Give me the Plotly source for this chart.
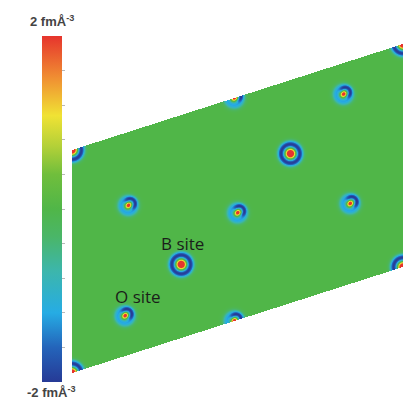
import numpy as np
import plotly.graph_objects as go

# ---- cell geometry of the map (pixel frame of the figure) ----
cell_origin = [72.0, 373.0]     # bottom-left corner
cell_a = [331.0, -106.0]        # bottom edge vector
cell_b = [0.0, -223.0]          # left edge vector

# ---- site data (fractional coordinates in the cell) ----
b_site_u = [0.00, 0.33, 0.66]
b_site_v = [0.00, 0.33, 0.67]
o_site_u = [0.16, 0.50, 0.82, 0.17, 0.49, 0.84]
o_site_v = [0.18, 0.48, 0.86, 0.67, 0.00, 0.36]

# peak / trough amplitudes (fm Å^-3)
b_peak, b_trough = 3.6, 2.0
o_peak, o_trough, o_crescent = 3.2, 1.25, 0.8

# colour scale limits and tick values
z_min, z_max = -2.0, 2.0
bar_ticks = [-1.6, -1.2, -0.8, -0.4, 0.0, 0.4, 0.8, 1.2, 1.6]
label_top = "2 fmÅ<sup>-3</sup>"
label_bottom = "-2 fmÅ<sup>-3</sup>"

colorscale = [
    [0.00, "rgb(38,58,150)"],
    [0.10, "rgb(36,100,186)"],
    [0.20, "rgb(38,172,228)"],
    [0.32, "rgb(60,182,172)"],
    [0.42, "rgb(74,182,104)"],
    [0.50, "rgb(80,182,72)"],
    [0.60, "rgb(112,190,60)"],
    [0.68, "rgb(178,208,56)"],
    [0.77, "rgb(240,226,52)"],
    [0.88, "rgb(240,142,50)"],
    [1.00, "rgb(230,52,45)"],
]

# ---- grid ----
xs = np.arange(68, 406) + 0.5
ys = np.arange(40, 380) + 0.5
X, Y = np.meshgrid(xs, ys)
ox, oy = cell_origin
ax_, ay_ = cell_a
bx_, by_ = cell_b
U = (X - ox) / ax_
V = (Y - oy - U * ay_) / by_
inside = (U >= 0) & (U <= 1) & (V >= 0) & (V <= 1)

Z = np.zeros_like(X)


def site_centres(u, v):
    for du in (-1, 0, 1):
        for dv in (-1, 0, 1):
            cx = ox + (u + du) * ax_ + (v + dv) * bx_
            cy = oy + (u + du) * ay_ + (v + dv) * by_
            yield cx, cy


for u, v in zip(b_site_u, b_site_v):
    for cx, cy in site_centres(u, v):
        r = np.hypot(X - cx, Y - cy)
        Z += b_peak * np.exp(-r**2 / (2 * 3.0**2))
        Z -= b_trough * np.exp(-(r - 9.3)**2 / (2 * 2.6**2))

for u, v in zip(o_site_u, o_site_v):
    for cx, cy in site_centres(u, v):
        r = np.hypot(X - cx, Y - cy)
        Z += o_peak * np.exp(-r**2 / (2 * 2.3**2))
        Z -= o_trough * np.exp(-(r - 7.0)**2 / (2 * 2.9**2))
        rc = np.hypot(X - (cx + 2.5), Y - (cy - 2.5))
        Z -= o_crescent * np.exp(-(rc - 4.5)**2 / (2 * 1.7**2))

Z = np.where(inside, Z, np.nan)

fig = go.Figure()
fig.add_trace(go.Heatmap(
    x=xs, y=ys, z=Z,
    zmin=z_min, zmax=z_max,
    colorscale=colorscale,
    zsmooth=False,
    hoverinfo="skip",
    colorbar=dict(
        x=42 / 406, xanchor="left", xpad=0,
        y=(405 - 209) / 405, yanchor="middle", ypad=0,
        thickness=20, thicknessmode="pixels",
        len=346 / 405, lenmode="fraction",
        outlinewidth=0,
        tickmode="array", tickvals=bar_ticks,
        ticks="outside", ticklen=3, tickcolor="#b8b8b8", tickwidth=1,
        showticklabels=False,
    ),
))

lab_font = dict(family="Liberation Sans", size=13, color="#444444")
fig.add_annotation(x=52, y=21, xref="x", yref="y", text="<b>" + label_top + "</b>",
                   showarrow=False, font=lab_font)
fig.add_annotation(x=51, y=392, xref="x", yref="y", text="<b>" + label_bottom + "</b>",
                   showarrow=False, font=lab_font)
site_font = dict(family="Open Sans", size=17, color="#1a1f1a")
fig.add_annotation(x=182, y=243, xref="x", yref="y", text="B site",
                   showarrow=False, font=site_font)
fig.add_annotation(x=138, y=296, xref="x", yref="y", text="O site",
                   showarrow=False, font=site_font)

fig.update_layout(
    width=406, height=405,
    margin=dict(l=0, r=0, t=0, b=0),
    paper_bgcolor="white", plot_bgcolor="white",
    xaxis=dict(visible=False, range=[0, 406], fixedrange=True),
    yaxis=dict(visible=False, range=[405, 0], fixedrange=True),
    showlegend=False,
)

fig.write_html("out.html")
